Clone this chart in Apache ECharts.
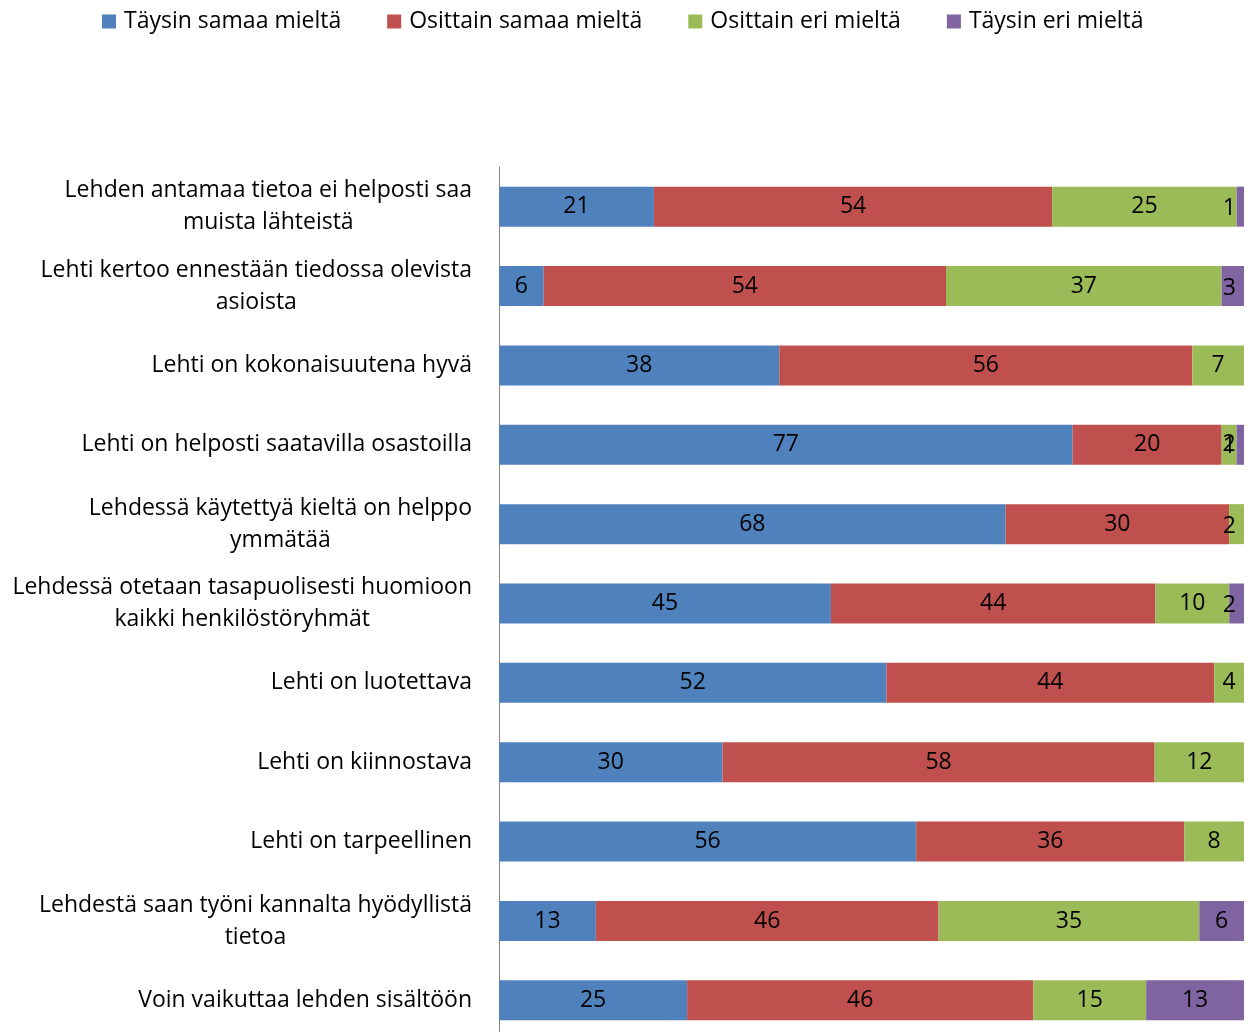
<!DOCTYPE html>
<html>
<head>
<meta charset="utf-8">
<script src="https://cdn.jsdelivr.net/npm/echarts@6/dist/echarts.min.js"></script>
<style>
  html, body { margin: 0; padding: 0; background: #fff; overflow: hidden; }
  #chart { width: 1251px; height: 1040px; }
</style>
</head>
<body>
<div id="chart"></div>
<script>
// Statements, top to bottom (two-line wrapping kept as in the printed survey)
const categories = [
  'Lehden antamaa tietoa ei helposti saa\nmuista lähteistä',
  'Lehti kertoo ennestään tiedossa olevista\nasioista',
  'Lehti on kokonaisuutena hyvä',
  'Lehti on helposti saatavilla osastoilla',
  'Lehdessä käytettyä kieltä on helppo\nymmätää',
  'Lehdessä otetaan tasapuolisesti huomioon\nkaikki henkilöstöryhmät',
  'Lehti on luotettava',
  'Lehti on kiinnostava',
  'Lehti on tarpeellinen',
  'Lehdestä saan työni kannalta hyödyllistä\ntietoa',
  'Voin vaikuttaa lehden sisältöön'
];

const seriesNames = ['Täysin samaa mieltä', 'Osittain samaa mieltä', 'Osittain eri mieltä', 'Täysin eri mieltä'];

// Answer shares in percent (rounded, so rows do not always total 100)
const taysinSamaa   = [21, 6, 38, 77, 68, 45, 52, 30, 56, 13, 25];
const osittainSamaa = [54, 54, 56, 20, 30, 44, 44, 58, 36, 46, 46];
const osittainEri   = [25, 37, 7, 2, 2, 10, 4, 12, 8, 35, 15];
const taysinEri     = [1, 3, null, 1, null, 2, null, null, null, 6, 13];

const colors = ['#4F81BD', '#C0504D', '#9BBB59', '#8064A2'];
const raw = [taysinSamaa, osittainSamaa, osittainEri, taysinEri];

// Each bar fills the full width: scale every row by its own total
const rowTotals = categories.map((_, i) => raw.reduce((s, arr) => s + (arr[i] || 0), 0));

const FONT = 'Open Sans';
const FS = 23;
const chart = echarts.init(document.getElementById('chart'));
const PLOT_LEFT = 499, PLOT_RIGHT_GAP = 7;

const series = raw.map((arr, si) => ({
  name: seriesNames[si],
  type: 'bar',
  stack: 'total',
  barWidth: 40,
  itemStyle: { color: colors[si] },
  label: {
    show: true,
    position: 'inside',
    offset: [0, 2],
    color: '#000',
    fontFamily: FONT,
    fontSize: FS,
    formatter: p => (arr[p.dataIndex] == null ? '' : String(arr[p.dataIndex]))
  },
  labelLayout: function (params) {
    // keep labels of thin end segments inside the plot area
    const limit = chart.getWidth() - PLOT_RIGHT_GAP - 8;
    const r = params.labelRect;
    if (r.x + r.width > limit) {
      return {
        x: limit - r.width / 2,
        y: params.rect.y + params.rect.height / 2 + 2,
        align: 'center',
        verticalAlign: 'middle'
      };
    }
    return {};
  },
  data: arr.map((v, i) => (v == null ? null : v / rowTotals[i] * 100))
}));

chart.setOption({
  animation: false,
  backgroundColor: '#fff',
  legend: {
    data: seriesNames,
    top: 5,
    left: 97,
    icon: 'rect',
    itemWidth: 14,
    itemHeight: 14,
    itemGap: 46,
    textStyle: { fontFamily: FONT, fontSize: FS, color: '#000', padding: [0, 0, 0, 3] }
  },
  grid: { left: PLOT_LEFT, right: PLOT_RIGHT_GAP, top: 167, height: 873, containLabel: false },
  xAxis: {
    type: 'value',
    min: 0,
    max: 100,
    show: false
  },
  yAxis: {
    type: 'category',
    inverse: true,
    data: categories,
    axisLine: { show: true, lineStyle: { color: '#868686', width: 1 } },
    axisTick: { show: false },
    axisLabel: {
      margin: 27,
      color: '#000',
      fontFamily: FONT,
      fontSize: FS,
      lineHeight: 32,
      formatter: v => v.split('\n').map(s => '{c|' + s + '}').join('\n'),
      rich: { c: { align: 'center', fontFamily: FONT, fontSize: FS, lineHeight: 32, color: '#000' } }
    }
  },
  series: series
});
</script>
</body>
</html>
